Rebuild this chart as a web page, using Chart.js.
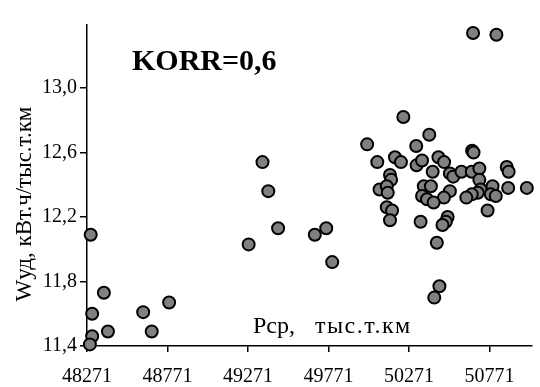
<!DOCTYPE html>
<html lang="ru">
<head>
<meta charset="UTF-8">
<title>KORR scatter</title>
<script src="https://cdn.jsdelivr.net/npm/chart.js"></script>
<style>
    body { margin: 0; background: #fff; }
    .chart-box { width: 540px; height: 387px; position: relative; }
</style>
</head>
<body>
<div class="chart-box"><canvas id="chart"></canvas></div>
<script>
// Рср, тыс.т.км
const pcp = [
    48294, 48376, 48303, 48401, 48303, 48289, 48620, 48673, 48781,
    49275, 49361, 49397, 49458, 49686, 49757, 49794,
    50011, 50074, 50184, 50221, 50236, 50316, 50318, 50352, 50397,
    50418, 50454, 50489, 50525, 50546, 50597, 50661, 50663, 50672,
    50669, 50814, 50708, 50708, 50716, 50698, 50661, 50627, 50790,
    50779, 50810, 50759, 50878, 50890, 50887, 51003, 50525, 50488,
    50153, 50160, 50088, 50133, 50139, 50133, 50166, 50153, 50343,
    50363, 50407, 50352, 50383, 50424, 50511, 50500, 50479, 50444,
    50460, 50428
];
// Wуд, кВт.ч/тыс.т.км
const wud = [
    12.09, 11.73, 11.60, 11.49, 11.46, 11.41, 11.61, 11.49, 11.67,
    12.03, 12.54, 12.36, 12.13, 12.09, 12.13, 11.92,
    12.65, 12.54, 12.57, 12.54, 12.82, 12.64, 12.52, 12.55, 12.71,
    12.48, 12.57, 12.54, 12.47, 12.45, 12.48, 12.48, 12.61, 12.60,
    13.34, 13.33, 12.50, 12.43, 12.37, 12.35, 12.34, 12.32, 12.39,
    12.34, 12.33, 12.24, 12.51, 12.48, 12.38, 12.38, 12.36, 12.32,
    12.46, 12.43, 12.37, 12.39, 12.35, 12.26, 12.24, 12.18, 12.17,
    12.39, 12.39, 12.33, 12.31, 12.29, 12.20, 12.17, 12.15, 12.04,
    11.77, 11.70
];
const xTicks = [48271, 48771, 49271, 49771, 50271, 50771];
const yTicks = [11.4, 11.8, 12.2, 12.6, 13.0];

const serif = '"Liberation Serif", "Times New Roman", serif';

// подписи внутри графика
const labelsPlugin = {
    id: 'labels',
    afterDraw(chart) {
        const ctx = chart.ctx;
        ctx.save();
        ctx.fillStyle = '#000';
        ctx.textBaseline = 'alphabetic';
        ctx.textAlign = 'left';
        ctx.font = 'bold 30px ' + serif;
        ctx.fillText('KORR=0,6', 132, 70);
        ctx.font = '24px ' + serif;
        ctx.fillText('Рср,', 253, 333);
        ctx.letterSpacing = '1.5px';
        ctx.fillText('тыс.т.км', 315, 333);
        ctx.letterSpacing = '0px';
        ctx.translate(25, 204);
        ctx.rotate(-Math.PI / 2);
        ctx.textAlign = 'center';
        ctx.textBaseline = 'middle';
        ctx.font = '23px ' + serif;
        ctx.fillText('Wуд, кВт.ч/тыс.т.км', 0, 0);
        ctx.restore();
    }
};

new Chart(document.getElementById('chart'), {
    type: 'scatter',
    data: {
        datasets: [{
            data: pcp.map((x, i) => ({ x: x, y: wud[i] })),
            backgroundColor: '#808080',
            borderColor: '#000',
            borderWidth: 2,
            pointRadius: 6,
            clip: false
        }]
    },
    options: {
        responsive: true,
        maintainAspectRatio: false,
        animation: false,
        layout: { padding: { top: 25, right: 0, left: 0, bottom: 0 } },
        plugins: { legend: { display: false }, tooltip: { enabled: false } },
        scales: {
            x: {
                type: 'linear',
                min: 48271,
                max: 51035,
                afterBuildTicks: s => { s.ticks = xTicks.map(v => ({ value: v })); },
                afterFit: s => { s.height = 41; },
                grid: { drawOnChartArea: false, color: '#000', tickLength: 6, lineWidth: 1.5 },
                border: { color: '#000', width: 1.5 },
                ticks: {
                    color: '#000',
                    padding: 13,
                    maxRotation: 0,
                    font: { family: serif, size: 20 },
                    callback: v => String(v)
                }
            },
            y: {
                min: 11.4,
                max: 13.39,
                afterBuildTicks: s => { s.ticks = yTicks.map(v => ({ value: v })); },
                afterFit: s => { s.width = 87; },
                grid: { drawOnChartArea: false, color: '#000', tickLength: 7, lineWidth: 1.5 },
                border: { color: '#000', width: 1.5 },
                ticks: {
                    color: '#000',
                    padding: 3,
                    font: { family: serif, size: 20 },
                    callback: v => v.toFixed(1).replace('.', ',')
                }
            }
        }
    },
    plugins: [labelsPlugin]
});
</script>
</body>
</html>
